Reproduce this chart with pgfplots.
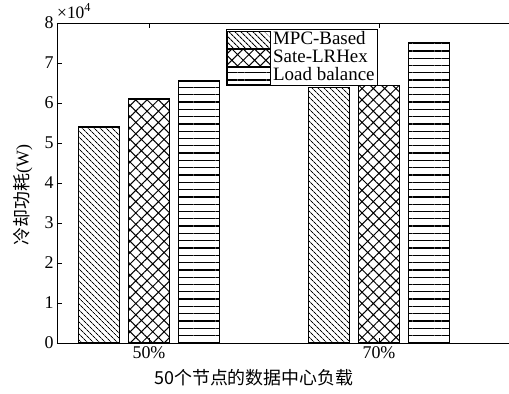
\documentclass[border=0pt]{standalone}
\usepackage{pgfplots}
\pgfplotsset{compat=1.18}
\usetikzlibrary{patterns.meta}
\usepackage{fontspec}
\setmainfont{Liberation Serif}
\newfontfamily\cjk{Noto Sans CJK SC}
\newfontfamily\tnr{Liberation Serif}
\begin{document}
\begin{tikzpicture}
\useasboundingbox (-57bp,-51bp) rectangle (452bp,343bp);
\clip (-57bp,-51bp) rectangle (452bp,343bp);
\begin{axis}[
  scale only axis,
  width=460bp, height=320bp,
  xmin=0.6, xmax=2.6,
  ymin=0, ymax=8,
  ybar=8.5bp,
  bar width=41.5bp,
  xtick={1,2},
  xticklabels={50\%,70\%},
  ytick={0,1,...,8},
  yticklabels={0,1,2,3,4,5,6,7,8},
  tick align=inside,
  major tick length=5bp,
  axis line style={line width=0.9bp},
  every tick/.style={line width=0.9bp, black},
  /pgf/number format/assume math mode=true,
  xticklabel style={font=\tnr\fontsize{18}{20}\selectfont},
  yticklabel style={font=\tnr\fontsize{18}{20}\selectfont},
  xlabel={\cjk 50个节点的数据中心负载},
  xlabel style={font=\fontsize{18}{20}\selectfont, at={(axis description cs:0.428,0)}, anchor=north, yshift=-23bp},
  ylabel={{\cjk 冷却功耗}{\tnr (W)}},
  ylabel style={font=\fontsize{18}{20}\selectfont, at={(axis description cs:-0.074,0.4625)}, anchor=center},
  legend style={at={(axis description cs:0.367,0.981)}, anchor=north west,
    draw=black, line width=0.9bp, inner sep=1bp, row sep=0bp,
    font=\tnr\fontsize{19}{19}\selectfont, cells={anchor=west},
    nodes={text height=13.5bp, text depth=4bp, inner ysep=0.25bp}},
  legend image code/.code={\draw[#1, line width=0.9bp] (0bp,-8.5bp) rectangle (43bp,8.5bp);},
  clip=false,
]
\addplot[draw=black, line width=1.1bp, pattern={Lines[angle=-45, distance=3.9bp, line width=1.05bp]}]
  coordinates {(1,5.40) (2,6.38)};
\addplot[draw=black, line width=1.1bp, pattern={Hatch[angle=45, distance=8bp, line width=1bp]}]
  coordinates {(1,6.10) (2,6.43)};
\addplot[draw=black, line width=1.1bp, pattern={Lines[angle=0, distance=7.3bp, line width=1.3bp]}]
  coordinates {(1,6.55) (2,7.52)};
\legend{MPC-Based,Sate-LRHex,Load balance}
\node[anchor=base west, inner sep=0pt, font=\tnr\fontsize{17.5}{17.5}\selectfont] at ([yshift=5bp]axis description cs:0,1) {×10\textsuperscript{4}};
\end{axis}
\end{tikzpicture}
\end{document}
